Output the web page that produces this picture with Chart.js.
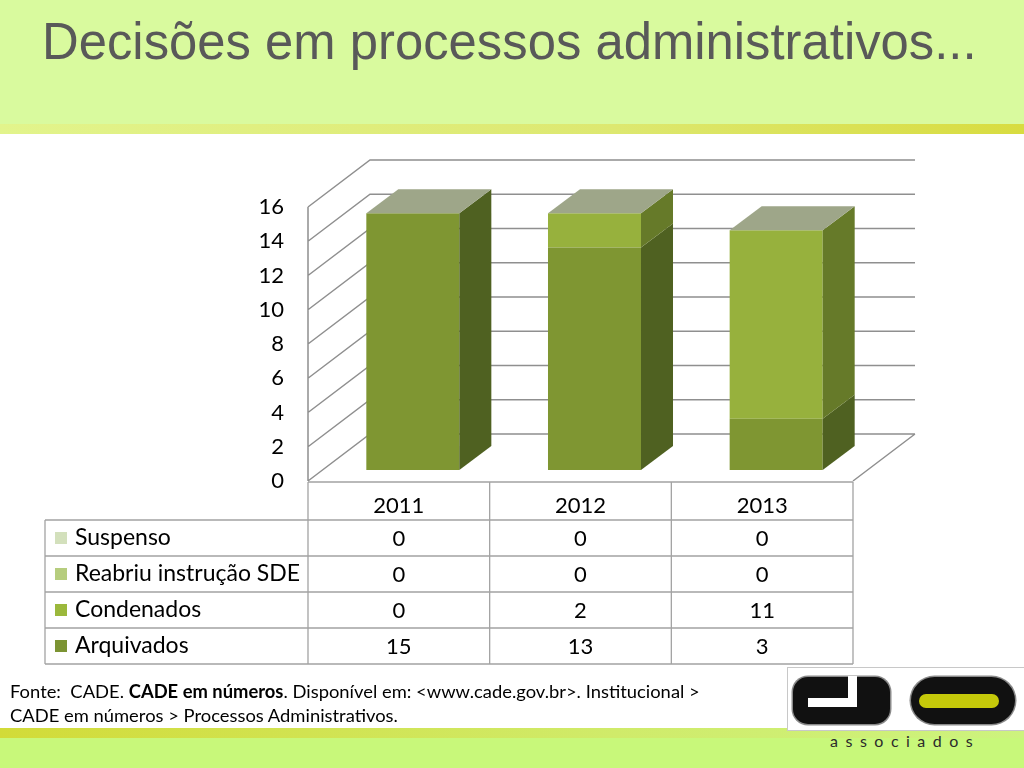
<!DOCTYPE html>
<html lang="pt-BR">
<head>
<meta charset="utf-8">
<title>Decisões em processos administrativos</title>
<script src="https://cdn.jsdelivr.net/npm/chart.js@4.4.1/dist/chart.umd.min.js"></script>
<style>
  html, body { margin: 0; padding: 0; }
  body { width: 1024px; height: 768px; position: relative; overflow: hidden; background: #fff; font-family: Lato, sans-serif; }
  #topo { position: absolute; left: 0; top: 0; width: 1024px; height: 124px; background: #D9FA9E; }
  #faixaTopo { position: absolute; left: 0; top: 124px; width: 1024px; height: 10px;
    background: linear-gradient(to right, #E2F48C, #DDE870 60%, #D8DC40); }
  #titulo { position: absolute; left: 42px; top: 15px; font-family: 'Liberation Sans', Arial, sans-serif;
    font-size: 52px; line-height: 52px; color: #595959; white-space: nowrap; transform-origin: 0 0; }
  #faixaBase { position: absolute; left: 0; top: 728px; width: 1024px; height: 10px;
    background: linear-gradient(to right, #D2DB38, #D0EB6A 60%, #CDF37E); }
  #base { position: absolute; left: 0; top: 738px; width: 1024px; height: 30px; background: #C8F87A; }
  #grafico { position: absolute; left: 0; top: 0; width: 1024px; height: 768px; }
  #fonte { position: absolute; left: 10px; top: 679px; font-size: 18px; line-height: 24px; color: #000;
    white-space: nowrap; transform-origin: 0 0; }
  #logoCaixa { position: absolute; left: 787px; top: 667px; width: 240px; height: 62px; background: #fff; border: 1px solid #C8C8C8; }
  .preto { position: absolute; background: #111; box-shadow: 0 0 0 1.5px #8a8a8a; }
  .branco { position: absolute; background: #fff; }
  #associados { position: absolute; left: 830px; top: 731px; font-size: 16px; letter-spacing: 7.5px; color: #2b2b2b; }
</style>
</head>
<body>
<div id="topo"></div>
<div id="faixaTopo"></div>
<div id="titulo">Decisões em processos administrativos...</div>
<div id="faixaBase"></div>
<div id="base"></div>

<div id="logoCaixa"></div>
<div class="preto" style="left:793px; top:677px; width:97px; height:47px; border-radius:15px;"></div>
<div class="branco" style="left:808px; top:698px; width:49px; height:9px;"></div>
<div class="branco" style="left:848px; top:676px; width:9px; height:31px;"></div>
<div class="preto" style="left:911px; top:677px; width:104px; height:47px; border-radius:24px;"></div>
<div style="position:absolute; left:919px; top:694px; width:80px; height:14px; border-radius:7px; background:#C5C90A;"></div>
<div id="associados">associados</div>

<div id="grafico"><canvas id="canvasGrafico"></canvas></div>

<div id="fonte">Fonte:&nbsp; CADE. <b>CADE em números</b>. Disponível em: &lt;www.cade.gov.br&gt;. Institucional &gt;<br>CADE em números &gt; Processos Administrativos.</div>

<script>
const anos = ['2011', '2012', '2013'];
const arquivados = [15, 13, 3];
const condenados = [0, 2, 11];
const reabriuSDE = [0, 0, 0];
const suspenso = [0, 0, 0];

// profundidade do "3D": paredes/piso e as barras
const PROF_X = 62, PROF_Y = -47;
const BARRA_X = 32, BARRA_Y = -24;
const DESLOC_X = 14, DESLOC_Y = -11;
const COR_TOPO = '#9EA689';

// ajusta a largura do título e da fonte ao slide
const titulo = document.getElementById('titulo');
titulo.style.transform = 'scaleX(' + (935 / titulo.offsetWidth) + ')';
const fonte = document.getElementById('fonte');
fonte.style.transform = 'scaleX(' + (690 / fonte.offsetWidth) + ')';

const efeito3D = {
    id: 'efeito3D',
    beforeDatasetsDraw(chart) {
        const ctx = chart.ctx;
        const y = chart.scales.y;
        const a = chart.chartArea;
        ctx.save();
        ctx.strokeStyle = '#8F8F8F';
        ctx.lineWidth = 1.5;
        ctx.beginPath();
        y.ticks.forEach(t => {
            const py = y.getPixelForValue(t.value);
            ctx.moveTo(a.left, py);
            ctx.lineTo(a.left + PROF_X, py + PROF_Y);
            ctx.lineTo(a.right + PROF_X, py + PROF_Y);
        });
        // aresta da parede lateral e do piso
        ctx.moveTo(a.left, a.top);
        ctx.lineTo(a.left, a.bottom);
        ctx.moveTo(a.right, a.bottom);
        ctx.lineTo(a.right + PROF_X, a.bottom + PROF_Y);
        ctx.stroke();
        ctx.restore();

        // as barras ficam no meio do piso
        ctx.save();
        ctx.translate(DESLOC_X, DESLOC_Y);
    },
    afterDatasetsDraw(chart) {
        const ctx = chart.ctx;
        const metas = chart.getSortedVisibleDatasetMetas();
        anos.forEach((ano, i) => {
            let alto = null;
            metas.forEach(meta => {
                const ds = chart.data.datasets[meta.index];
                if (!ds.data[i]) return;
                const p = meta.data[i].getProps(['x', 'y', 'base', 'width'], true);
                const dir = p.x + p.width / 2;
                ctx.fillStyle = ds.corLateral;
                ctx.beginPath();
                ctx.moveTo(dir, p.y);
                ctx.lineTo(dir + BARRA_X, p.y + BARRA_Y);
                ctx.lineTo(dir + BARRA_X, p.base + BARRA_Y);
                ctx.lineTo(dir, p.base);
                ctx.closePath();
                ctx.fill();
                if (alto === null || p.y < alto.y) alto = p;
            });
            if (alto) {
                const esq = alto.x - alto.width / 2, dir = alto.x + alto.width / 2;
                ctx.fillStyle = COR_TOPO;
                ctx.beginPath();
                ctx.moveTo(esq, alto.y);
                ctx.lineTo(esq + BARRA_X, alto.y + BARRA_Y);
                ctx.lineTo(dir + BARRA_X, alto.y + BARRA_Y);
                ctx.lineTo(dir, alto.y);
                ctx.closePath();
                ctx.fill();
            }
        });
        ctx.restore();
    },
    afterDraw(chart) {
        // tabela de dados embaixo do gráfico
        const ctx = chart.ctx;
        const xs = chart.scales.x;
        const a = chart.chartArea;
        const meia = (xs.getPixelForValue(1) - xs.getPixelForValue(0)) / 2;
        const topo = a.bottom + 1;
        const altCab = 38, altLinha = 36, esq = 45;
        const linhas = chart.data.datasets.slice().reverse();
        const fim = topo + altCab + linhas.length * altLinha;

        ctx.save();
        ctx.strokeStyle = '#A3A3A3';
        ctx.lineWidth = 1.3;
        ctx.beginPath();
        ctx.moveTo(a.left, topo);
        ctx.lineTo(a.right, topo);
        for (let r = 0; r <= linhas.length; r++) {
            const py = topo + altCab + r * altLinha;
            ctx.moveTo(esq, py);
            ctx.lineTo(a.right, py);
        }
        anos.forEach((ano, i) => {
            const px = xs.getPixelForValue(i) - meia;
            ctx.moveTo(px, topo);
            ctx.lineTo(px, fim);
        });
        ctx.moveTo(xs.getPixelForValue(anos.length - 1) + meia, topo);
        ctx.lineTo(xs.getPixelForValue(anos.length - 1) + meia, fim);
        ctx.moveTo(esq, topo + altCab);
        ctx.lineTo(esq, fim);
        ctx.stroke();

        ctx.font = '22px Lato';
        ctx.fillStyle = '#000';
        ctx.textBaseline = 'middle';
        ctx.textAlign = 'center';
        anos.forEach((ano, i) => ctx.fillText(ano, xs.getPixelForValue(i), topo + altCab / 2 + 5));

        linhas.forEach((ds, r) => {
            const meio = topo + altCab + r * altLinha + altLinha / 2;
            ctx.fillStyle = ds.corLegenda;
            ctx.fillRect(esq + 10, meio - 6, 12, 12);
            ctx.fillStyle = '#000';
            ctx.textAlign = 'left';
            ctx.font = '23px Lato';
            ctx.fillText(ds.label, esq + 30, meio);
            ctx.textAlign = 'center';
            ctx.font = '22px Lato';
            ds.data.forEach((v, i) => ctx.fillText(String(v), xs.getPixelForValue(i), meio + 1));
        });
        ctx.restore();
    }
};

const ctx = document.getElementById('canvasGrafico').getContext('2d');
const chart = new Chart(ctx, {
    type: 'bar',
    data: {
        labels: anos,
        datasets: [
            { label: 'Arquivados', data: arquivados, backgroundColor: '#7F9632', corLateral: '#4F6121', corLegenda: '#7C9433' },
            { label: 'Condenados', data: condenados, backgroundColor: '#97B13D', corLateral: '#667A29', corLegenda: '#9BB83C' },
            { label: 'Reabriu instrução SDE', data: reabriuSDE, backgroundColor: '#B2C97A', corLateral: '#7D8F50', corLegenda: '#B6CD7E' },
            { label: 'Suspenso', data: suspenso, backgroundColor: '#CFDDB4', corLateral: '#939F7C', corLegenda: '#D3E0BC' }
        ]
    },
    options: {
        responsive: true,
        maintainAspectRatio: false,
        animation: false,
        layout: { padding: { left: 248, right: 171, top: 207, bottom: 287 } },
        datasets: { bar: { barPercentage: 0.512, categoryPercentage: 1.0, borderWidth: 0, clip: false } },
        plugins: { legend: { display: false }, tooltip: { enabled: false } },
        scales: {
            x: { stacked: true, display: false },
            y: {
                stacked: true,
                min: 0,
                max: 16,
                afterFit(scale) { scale.width = 60; },
                grid: { display: false, drawTicks: false },
                border: { display: false },
                ticks: { stepSize: 2, padding: 24, color: '#000', font: { family: 'Lato', size: 22 } }
            }
        }
    },
    plugins: [efeito3D]
});
</script>
</body>
</html>
